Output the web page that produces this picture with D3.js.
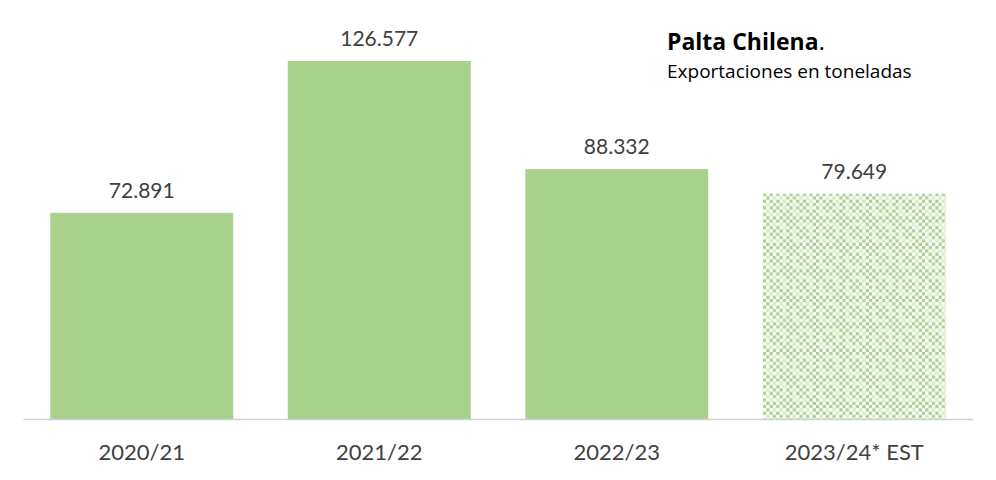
<!DOCTYPE html>
<html>
<head>
<meta charset="utf-8">
<script src="https://cdn.jsdelivr.net/npm/d3@7"></script>
<style>
    body { margin: 0; background: #fff; }
    svg { display: block; font-family: Lato, "Open Sans", sans-serif; }
    .value-label, .cat-label { fill: #404040; text-anchor: middle; }
    .value-label { font-size: 21px; }
    .cat-label { font-size: 22px; }
</style>
</head>
<body>
<div id="chart"></div>
<script>
var categories = ["2020/21", "2021/22", "2022/23", "2023/24* EST"];
var values = [72891, 126577, 88332, 79649];
var estimated = [false, false, false, true];
var yMax = 140000;

var fmt = function(v) { return d3.format(",")(v).replace(/,/g, "."); };

var width = 996, height = 480;

var svg = d3.select("#chart")
    .append("svg")
    .attr("width", width)
    .attr("height", height);

// excel style dotted pattern for the estimated bar
var cell = 26.5 / 8;
var mask = [
    [1,0,1,0,1,0,1,0],
    [0,1,0,0,0,0,0,1],
    [1,0,1,0,1,0,0,0],
    [0,0,0,1,0,1,0,1],
    [1,0,1,0,1,0,0,0],
    [0,0,0,1,0,1,0,1],
    [1,0,0,0,0,0,1,0],
    [0,1,0,1,0,1,0,1]
];
var pat = svg.append("defs").append("pattern")
    .attr("id", "est")
    .attr("patternUnits", "userSpaceOnUse")
    .attr("x", 763).attr("y", 193)
    .attr("width", cell * 8)
    .attr("height", cell * 8);
pat.append("rect").attr("width", cell * 8).attr("height", cell * 8).attr("fill", "#eef6e8");
mask.forEach(function(row, r) {
    row.forEach(function(on, c) {
        pat.append("rect")
            .attr("x", c * cell).attr("y", r * cell)
            .attr("width", cell).attr("height", cell)
            .attr("fill", on ? "#a9d18e" : ((r + c) % 2 ? "#ffffff" : "#d4e9c6"));
    });
});

var xScale = d3.scaleBand()
    .domain(categories)
    .range([23, 973])
    .paddingInner(0.23)
    .paddingOuter(0.115);

var yScale = d3.scaleLinear()
    .domain([0, yMax])
    .range([419, 23]);

var data = categories.map(function(c, i) {
    return { cat: c, value: values[i], est: estimated[i] };
});

svg.selectAll(".bar")
    .data(data)
    .enter().append("rect")
    .attr("class", "bar")
    .attr("x", function(d) { return xScale(d.cat); })
    .attr("y", function(d) { return yScale(d.value); })
    .attr("width", xScale.bandwidth())
    .attr("height", function(d) { return yScale(0) - yScale(d.value); })
    .attr("fill", function(d) { return d.est ? "url(#est)" : "#a9d18e"; });

svg.selectAll(".value-label")
    .data(data)
    .enter().append("text")
    .attr("class", "value-label")
    .attr("x", function(d) { return xScale(d.cat) + xScale.bandwidth() / 2; })
    .attr("y", function(d) { return yScale(d.value) - 15; })
    .text(function(d) { return fmt(d.value); });

// category axis
var xAxis = d3.axisBottom(xScale).tickSize(0).tickPadding(0);
var xAxisGroup = svg.append("g")
    .attr("transform", "translate(0," + yScale(0) + ")")
    .call(xAxis);
xAxisGroup.select(".domain")
    .attr("stroke", "#d0d0d0")
    .attr("stroke-width", 1.5);
xAxisGroup.selectAll("text")
    .attr("class", "cat-label")
    .attr("y", 41)
    .attr("dy", null)
    .attr("font-family", null)
    .attr("font-size", null)
    .attr("fill", null);
xAxisGroup.attr("font-family", null).attr("font-size", null);

// title
var title = svg.append("text")
    .attr("x", 667)
    .attr("y", 50)
    .attr("fill", "#000")
    .style("font-family", "'Open Sans', sans-serif")
    .style("font-size", "23px");
title.append("tspan").attr("font-weight", "bold").text("Palta Chilena");
title.append("tspan").text(".");

svg.append("text")
    .attr("x", 667)
    .attr("y", 78)
    .attr("fill", "#000")
    .style("font-family", "'Open Sans', sans-serif")
    .style("font-size", "19px")
    .text("Exportaciones en toneladas");
</script>
</body>
</html>
